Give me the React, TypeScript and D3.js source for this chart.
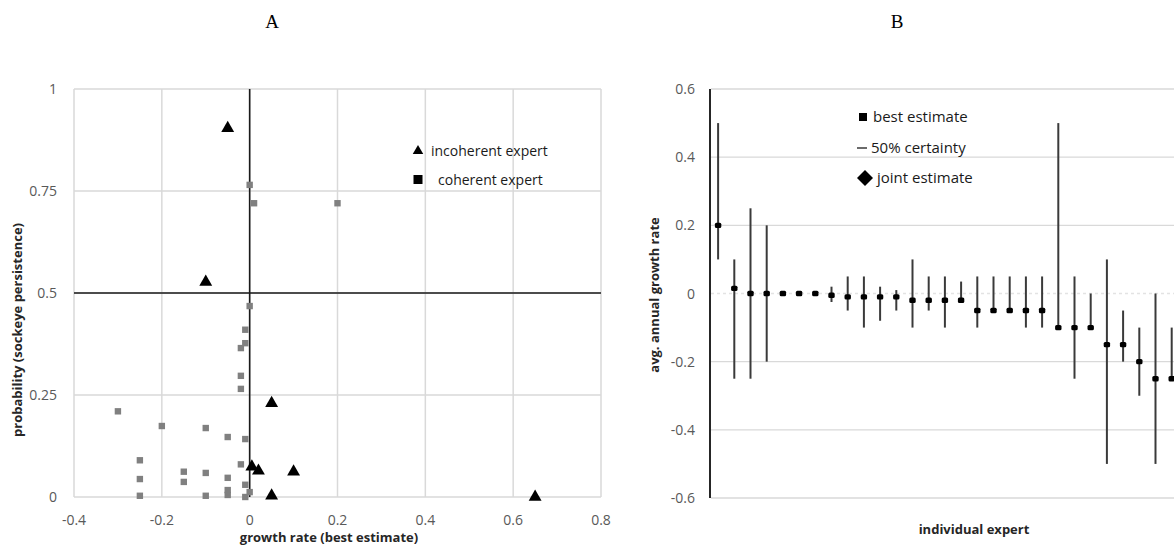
import React from "react";
import * as d3 from "d3";

// ---------- Panel A data ----------
const coherentX = [0, 0.01, 0.2, 0, -0.01, -0.02, -0.01, -0.02, -0.02, -0.3, -0.2, -0.1, -0.05, -0.01, -0.25, -0.02, -0.15, -0.1, -0.05, -0.25, -0.15, -0.05, -0.01, -0.25, -0.1, -0.05, -0.01, 0];
const coherentY = [0.765, 0.72, 0.72, 0.468, 0.41, 0.365, 0.377, 0.297, 0.265, 0.21, 0.174, 0.169, 0.147, 0.142, 0.09, 0.08, 0.062, 0.059, 0.047, 0.044, 0.037, 0.017, 0.03, 0.003, 0.003, 0.005, 0.0, 0.012];
const incoherentX = [-0.05, -0.1, 0.05, 0.005, 0.02, 0.1, 0.05, 0.65];
const incoherentY = [0.904, 0.527, 0.23, 0.074, 0.064, 0.062, 0.003, 0.0];
const xTicksA = [-0.4, -0.2, 0, 0.2, 0.4, 0.6, 0.8];
const xTickLabelsA = ["-0.4", "-0.2", "0", "0.2", "0.4", "0.6", "0.8"];
const yTicksA = [0, 0.25, 0.5, 0.75, 1];
const yTickLabelsA = ["0", "0.25", "0.5", "0.75", "1"];

// ---------- Panel B data ----------
const bestEstimate = [0.2, 0.015, 0, 0, 0, 0, 0, -0.005, -0.01, -0.01, -0.01, -0.01, -0.02, -0.02, -0.02, -0.02, -0.05, -0.05, -0.05, -0.05, -0.05, -0.1, -0.1, -0.1, -0.15, -0.15, -0.2, -0.25, -0.25];
const lower50 = [0.1, -0.25, -0.25, -0.2, 0, 0, 0, -0.025, -0.05, -0.1, -0.08, -0.05, -0.1, -0.05, -0.1, -0.02, -0.1, -0.05, -0.05, -0.1, -0.1, -0.1, -0.25, -0.1, -0.5, -0.2, -0.3, -0.5, -0.25];
const upper50 = [0.5, 0.1, 0.25, 0.2, 0, 0, 0, 0.02, 0.05, 0.05, 0.02, 0.01, 0.1, 0.05, 0.05, 0.035, 0.05, 0.05, 0.05, 0.05, 0.05, 0.5, 0.05, 0, 0.1, -0.05, -0.1, 0, -0.1];
const yTicksB = [-0.6, -0.4, -0.2, 0, 0.2, 0.4, 0.6];
const yTickLabelsB = ["-0.6", "-0.4", "-0.2", "0", "0.2", "0.4", "0.6"];

const FONT = "'Open Sans', sans-serif";
const TICK = "#595959";
const GRID = "#d9d9d9";

export default function App() {
  // Panel A scales
  const xA = d3.scaleLinear().domain([-0.4, 0.8]).range([74, 601]);
  const yA = d3.scaleLinear().domain([0, 1]).range([497, 89]);
  const tri = d3.symbol().type(d3.symbolTriangle).size(72)()!;
  const triLegend = d3.symbol().type(d3.symbolTriangle).size(48)()!;

  // Panel B scales
  const experts = bestEstimate.map((_, i) => `E${i + 1}`);
  const step = 16.2;
  const xB = d3.scaleBand<string>().domain(experts).range([710, 710 + experts.length * step]);
  const yB = d3.scaleLinear().domain([-0.6, 0.6]).range([498, 89]);
  const bx = (i: number) => (xB(experts[i]) as number) + xB.bandwidth() / 2;

  return (
    <svg width={1174} height={546} style={{ position: "absolute", left: 0, top: 0, background: "#fff" }} fontFamily={FONT}>
      <rect x={0} y={0} width={1174} height={546} fill="#fff" />
      {/* Titles */}
      <text x={272} y={28} textAnchor="middle" fontFamily="'Liberation Serif', serif" fontSize={19} fill="#000">A</text>
      <text x={897} y={28} textAnchor="middle" fontFamily="'Liberation Serif', serif" fontSize={19} fill="#000">B</text>

      {/* ---------- Panel A ---------- */}
      {xTicksA.map((t) => (
        <line key={"gx" + t} x1={xA(t)} x2={xA(t)} y1={yA(1)} y2={yA(0)} stroke={GRID} strokeWidth={1.5} />
      ))}
      {yTicksA.map((t) => (
        <line key={"gy" + t} x1={xA(-0.4)} x2={xA(0.8)} y1={yA(t)} y2={yA(t)} stroke={GRID} strokeWidth={1.5} />
      ))}
      <line x1={xA(0)} x2={xA(0)} y1={yA(1)} y2={yA(0)} stroke="#1a1a1a" strokeWidth={1.6} />
      <line x1={xA(-0.4)} x2={xA(0.8)} y1={yA(0.5)} y2={yA(0.5)} stroke="#1a1a1a" strokeWidth={1.6} />
      {xTicksA.map((t, i) => (
        <text key={"tx" + t} x={xA(t)} y={525} textAnchor="middle" fontSize={14} fill={TICK}>{xTickLabelsA[i]}</text>
      ))}
      {yTicksA.map((t, i) => (
        <text key={"ty" + t} x={57} y={yA(t) + 5} textAnchor="end" fontSize={14} fill={TICK}>{yTickLabelsA[i]}</text>
      ))}
      {coherentX.map((x, i) => (
        <rect key={"c" + i} x={xA(x) - 3.2} y={yA(coherentY[i]) - 3.2} width={6.4} height={6.4} fill="#808080" />
      ))}
      {incoherentX.map((x, i) => (
        <path key={"i" + i} d={tri} transform={`translate(${xA(x)},${yA(incoherentY[i])})`} fill="#000" />
      ))}
      {/* Legend A */}
      <path d={triLegend} transform="translate(418,151)" fill="#000" />
      <text x={431} y={156} fontSize={14} fill="#1a1a1a">incoherent expert</text>
      <rect x={413.5} y={175} width={9} height={9} fill="#000" />
      <text x={438} y={185} fontSize={14} fill="#1a1a1a">coherent expert</text>
      <text x={329} y={542} textAnchor="middle" fontSize={13} fontWeight="bold" fill="#262626">growth rate (best estimate)</text>
      <text transform="translate(22,330) rotate(-90)" textAnchor="middle" fontSize={13} fontWeight="bold" fill="#262626">probability (sockeye persistence)</text>

      {/* ---------- Panel B ---------- */}
      {yTicksB.map((t) => (
        <line key={"gb" + t} x1={711} x2={1174} y1={yB(t)} y2={yB(t)} stroke={t === 0 ? "#e3e3e3" : GRID} strokeWidth={1.3} strokeDasharray={t === 0 ? "3,3" : undefined} />
      ))}
      <line x1={710} x2={710} y1={yB(0.6)} y2={yB(-0.6)} stroke="#262626" strokeWidth={2} />
      {yTicksB.map((t, i) => (
        <text key={"tb" + t} x={695} y={yB(t) + 5} textAnchor="end" fontSize={14} fill={TICK}>{yTickLabelsB[i]}</text>
      ))}
      {bestEstimate.map((v, i) => (
        <g key={"b" + i}>
          {upper50[i] !== lower50[i] && (
            <line x1={bx(i)} x2={bx(i)} y1={yB(upper50[i])} y2={yB(lower50[i])} stroke="#3a3a3a" strokeWidth={2} />
          )}
          <rect x={bx(i) - 3.2} y={yB(v) - 2.7} width={6.4} height={5.4} rx={1.5} fill="#000" />
        </g>
      ))}
      {/* Legend B */}
      <rect x={859} y={113} width={8} height={8} fill="#000" />
      <text x={873} y={122} fontSize={15} fill="#1a1a1a">best estimate</text>
      <line x1={857} x2={867} y1={148} y2={148} stroke="#3a3a3a" strokeWidth={1.5} />
      <text x={871} y={153} fontSize={15} fill="#1a1a1a">50% certainty</text>
      <path d="M865,170 L873,178 L865,186 L857,178 Z" fill="#000" />
      <text x={877} y={183} fontSize={15} fill="#1a1a1a">joint estimate</text>
      <text x={974} y={534} textAnchor="middle" fontSize={13} fontWeight="bold" fill="#262626">individual expert</text>
      <text transform="translate(659,295) rotate(-90)" textAnchor="middle" fontSize={13} fontWeight="bold" fill="#262626">avg. annual growth rate</text>
    </svg>
  );
}
